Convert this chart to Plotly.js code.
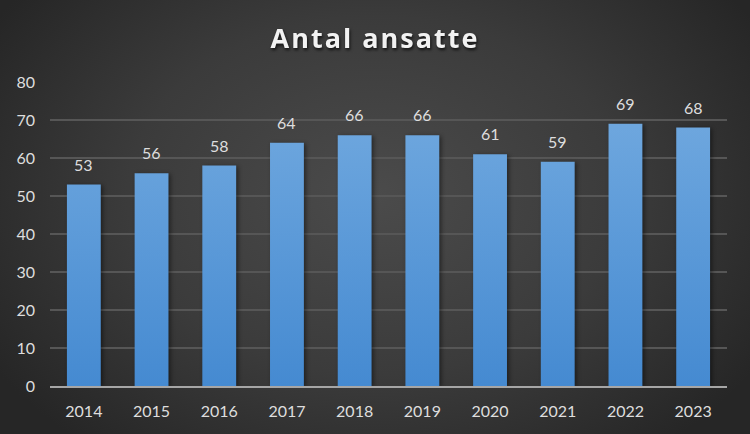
<!DOCTYPE html>
<html>
<head>
<meta charset="utf-8">
<script src="https://cdn.plot.ly/plotly-3.0.1.min.js"></script>
<style>
html, body { margin: 0; padding: 0; }
body { width: 750px; height: 434px; overflow: hidden;
  background: radial-gradient(ellipse 60% 75% at 50% 45%, #4b4b4b 0%, #3b3b3b 55%, #262626 100%); }
#chart { width: 750px; height: 434px; }
.gtitle { letter-spacing: 2px; filter: drop-shadow(1px 2px 1.5px rgba(0,0,0,0.7)); }
.point path { filter: drop-shadow(2px 1px 2px rgba(0,0,0,0.45)); }
</style>
</head>
<body>
<div id="chart"></div>
<script>
const years = [2014, 2015, 2016, 2017, 2018, 2019, 2020, 2021, 2022, 2023];
const employees = [53, 56, 58, 64, 66, 66, 61, 59, 69, 68];
const yTicks = [0, 10, 20, 30, 40, 50, 60, 70, 80];

const labelFont = { family: 'Lato, "Open Sans", sans-serif', size: 16, color: '#dedede' };

const trace = {
  type: 'bar',
  x: years,
  y: employees,
  marker: { color: '#5b9bdb', line: { width: 0 } },
  hoverinfo: 'x+y'
};

const annotations = years.map((yr, i) => ({
  x: yr, y: employees[i], text: String(employees[i]),
  xref: 'x', yref: 'y', showarrow: false, yanchor: 'bottom', yshift: 9,
  font: labelFont
}));

const layout = {
  width: 750, height: 434,
  paper_bgcolor: 'rgba(0,0,0,0)',
  plot_bgcolor: 'rgba(0,0,0,0)',
  margin: { l: 50, r: 23, t: 82, b: 48 },
  bargap: 0.5,
  showlegend: false,
  title: {
    text: '<b>Antal ansatte</b>',
    x: 0.5, xanchor: 'center', y: 0.912, yanchor: 'middle',
    font: { family: '"Open Sans", Lato, sans-serif', size: 27, color: '#f2f2f2' }
  },
  xaxis: {
    type: 'linear',
    range: [years[0] - 0.5, years[years.length - 1] + 0.5],
    tickvals: years, ticktext: years.map(String),
    showgrid: false, zeroline: false, showline: true,
    linecolor: '#a6a6a6', linewidth: 2,
    ticks: '', tickfont: labelFont, ticklabelstandoff: 10
  },
  yaxis: {
    range: [0, 80], tickvals: yTicks, ticktext: yTicks.map(String),
    showgrid: true, gridcolor: '#565656', gridwidth: 1.5,
    zeroline: false, showline: false,
    ticks: '', tickfont: labelFont, ticklabelstandoff: 14
  },
  annotations: annotations
};

Plotly.newPlot('chart', [trace], layout, { displayModeBar: false, staticPlot: true }).then(gd => {
  const svg = gd.querySelector('svg.main-svg');
  const ns = 'http://www.w3.org/2000/svg';
  const plotH = gd._fullLayout._size.h;
  const defs = document.createElementNS(ns, 'defs');
  const grad = document.createElementNS(ns, 'linearGradient');
  grad.setAttribute('id', 'barGrad');
  grad.setAttribute('gradientUnits', 'userSpaceOnUse');
  grad.setAttribute('x1', '0'); grad.setAttribute('x2', '0');
  grad.setAttribute('y1', '0'); grad.setAttribute('y2', String(plotH));
  [['0', '#74abe0'], ['1', '#458ad1']].forEach(([o, c]) => {
    const s = document.createElementNS(ns, 'stop');
    s.setAttribute('offset', o); s.setAttribute('stop-color', c);
    grad.appendChild(s);
  });
  defs.appendChild(grad);
  svg.insertBefore(defs, svg.firstChild);
  gd.querySelectorAll('.point path').forEach(p => { p.style.fill = 'url(#barGrad)'; });
});
</script>
</body>
</html>
